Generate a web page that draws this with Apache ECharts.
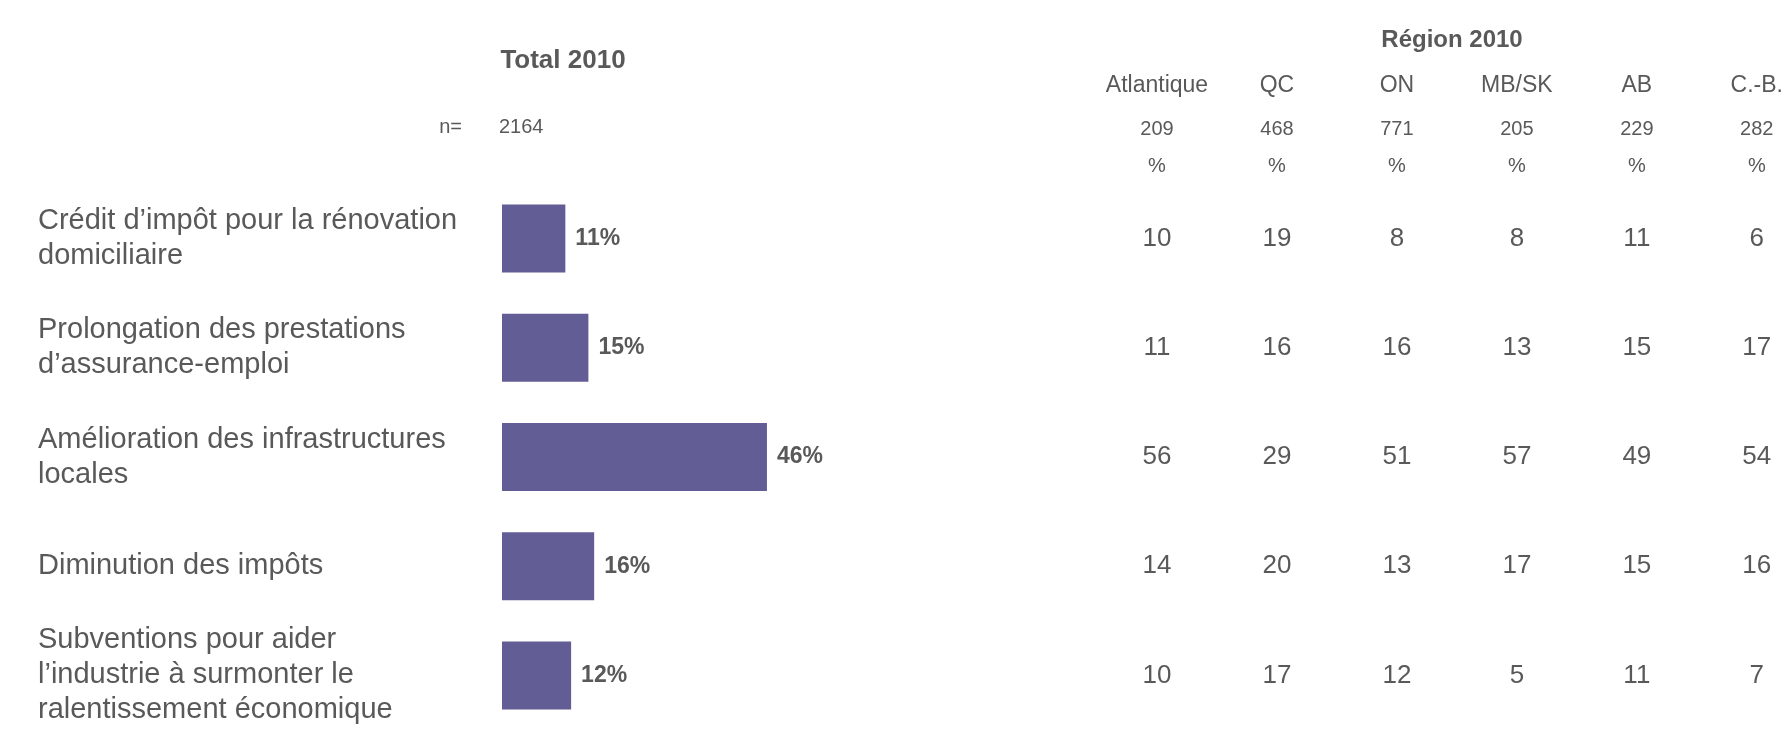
<!DOCTYPE html>
<html>
<head>
<meta charset="utf-8">
<script src="https://cdn.jsdelivr.net/npm/echarts@6/dist/echarts.min.js"></script>
<style>
  html, body { margin: 0; padding: 0; background: #fff; }
  #chart { width: 1786px; height: 730px; }
</style>
</head>
<body>
<div id="chart"></div>
<script>
  // categories (left column labels)
  var mesures = [
    'Crédit d’impôt pour la rénovation\ndomiciliaire',
    'Prolongation des prestations\nd’assurance-emploi',
    'Amélioration des infrastructures\nlocales',
    'Diminution des impôts',
    'Subventions pour aider\nl’industrie à surmonter le\nralentissement économique'
  ];
  var total2010 = [11, 15, 46, 16, 12];
  var totalN = 2164;

  var regions = ['Atlantique', 'QC', 'ON', 'MB/SK', 'AB', 'C.-B.'];
  var regionN = [209, 468, 771, 205, 229, 282];
  // one array per region column, rows in the same order as mesures
  var atlantique = [10, 11, 56, 14, 10];
  var qc = [19, 16, 29, 20, 17];
  var on = [8, 16, 51, 13, 12];
  var mbsk = [8, 13, 57, 17, 5];
  var ab = [11, 15, 49, 15, 11];
  var cb = [6, 17, 54, 16, 7];

  var regionCols = [atlantique, qc, on, mbsk, ab, cb];
  var cells = [];
  regionCols.forEach(function (col, ci) {
    col.forEach(function (v, ri) {
      cells.push([ci, ri, v]);
    });
  });

  var grey = '#595959';
  var font = "'Liberation Sans', Arial, sans-serif";

  var myChart = echarts.init(document.getElementById('chart'));
  var option = {
    backgroundColor: '#fff',
    animation: false,
    textStyle: { fontFamily: font, color: grey },
    title: [
      { text: 'Total 2010', left: 563, top: 48, padding: 0, textAlign: 'center',
        textStyle: { fontSize: 26, fontWeight: 'bold', color: grey, fontFamily: font } },
      { text: 'Région 2010', left: 1452, top: 28, padding: 0, textAlign: 'center',
        textStyle: { fontSize: 24, fontWeight: 'bold', color: grey, fontFamily: font } },
      { text: 'n=', left: 462, top: 117, padding: 0, textAlign: 'right',
        textStyle: { fontSize: 20, fontWeight: 'normal', color: grey, fontFamily: font } },
      { text: String(totalN), left: 499, top: 117, padding: 0,
        textStyle: { fontSize: 20, fontWeight: 'normal', color: grey, fontFamily: font } }
    ],
    grid: [
      { left: 502, top: 184, width: 576, height: 551 },
      { left: 1157, top: 184, width: 600, height: 551 }
    ],
    xAxis: [
      { gridIndex: 0, type: 'value', min: 0, max: 100, show: false },
      {
        gridIndex: 1, type: 'category', position: 'top', data: regions,
        boundaryGap: false,
        axisLine: { show: false }, axisTick: { show: false },
        axisLabel: {
          margin: -1,
          interval: 0,
          formatter: function (val, idx) {
            return '{r|' + val + '}\n{n|' + regionN[idx] + '}\n{p|%}';
          },
          rich: {
            r: { fontSize: 23, lineHeight: 50, color: grey, fontFamily: font },
            n: { fontSize: 20, lineHeight: 37, color: grey, fontFamily: font },
            p: { fontSize: 20, lineHeight: 37, color: grey, fontFamily: font }
          }
        }
      }
    ],
    yAxis: [
      {
        gridIndex: 0, type: 'category', data: mesures, inverse: true,
        axisLine: { show: false }, axisTick: { show: false },
        axisLabel: {
          align: 'left', margin: 464, fontSize: 29, lineHeight: 35,
          color: grey, fontFamily: font
        }
      },
      {
        gridIndex: 1, type: 'category', data: mesures, inverse: true, show: false
      }
    ],
    series: [
      {
        name: 'Total 2010',
        type: 'bar',
        xAxisIndex: 0, yAxisIndex: 0,
        barWidth: 68,
        itemStyle: { color: '#635d96' },
        label: {
          show: true, position: 'right', distance: 10,
          formatter: '{c}%',
          fontSize: 23, fontWeight: 'bold', color: grey,
          fontFamily: font
        },
        data: total2010
      },
      {
        name: 'Région 2010',
        type: 'scatter',
        xAxisIndex: 1, yAxisIndex: 1,
        symbolSize: 0,
        itemStyle: { opacity: 1 },
        label: {
          show: true, position: 'inside',
          formatter: function (p) { return p.value[2]; },
          fontSize: 26, color: grey, fontFamily: font
        },
        data: cells
      }
    ]
  };
  myChart.setOption(option);
</script>
</body>
</html>
